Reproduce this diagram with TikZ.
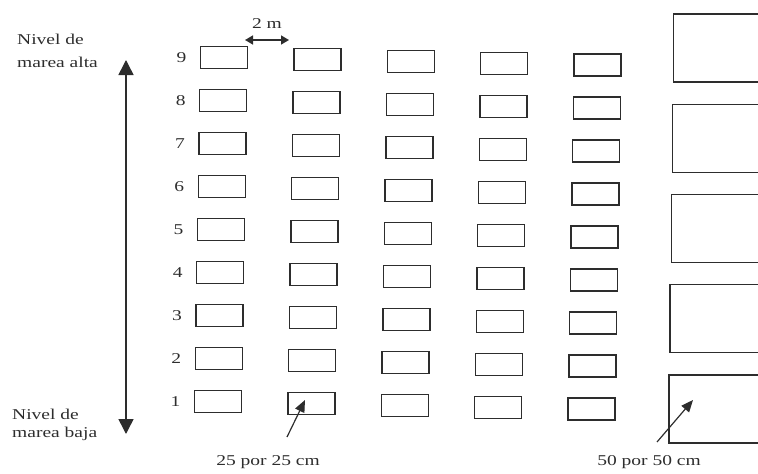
\documentclass[tikz,border=0pt]{standalone}
\usepackage{fontspec}
\setmainfont{Liberation Serif}
\usepackage{graphicx}
\usetikzlibrary{arrows.meta, positioning, calc}
\definecolor{inkcol}{RGB}{45,45,45}
\newcommand{\wide}[1]{\scalebox{1.3}[1]{#1}}

\begin{document}
\begin{tikzpicture}[
  x=1pt, y=-1pt,
  font=\fontsize{15}{23}\selectfont,
  every node/.style={text=inkcol},
  plot/.style={draw=inkcol, line width=1.4pt, minimum width=47pt,
               minimum height=22pt, inner sep=0pt},
  bigplot/.style={draw=inkcol, line width=1.3pt, minimum width=100pt,
                  minimum height=68pt, inner sep=0pt},
  lbl/.style={inner sep=0pt, align=left},
  tide/.style={{Triangle[length=15pt, width=15pt]}-{Triangle[length=15pt, width=15pt]},
               line width=1.5pt, draw=inkcol},
  span/.style={{Triangle[length=8pt, width=9pt]}-{Triangle[length=8pt, width=9pt]},
               line width=1.6pt, draw=inkcol},
  ptr/.style={-{Triangle[length=12pt, width=10pt]}, line width=1.2pt, draw=inkcol}
]
  \useasboundingbox (0,0) rectangle (758,474);
  \clip (0,0) rectangle (758,474);

  % small plots, 5 columns x 9 levels
  \foreach \c in {1,...,5}
    \foreach \r in {1,...,9}
      \node[plot] (b-\c-\r) at ({224+93.4*(\c-1)-0.75*(9-\r)}, {57.5+43*(9-\r)+1.9*(\c-1)}) {};

  % level numbers
  \foreach \r in {1,...,9}
    \node[left=10pt of b-1-\r] (n-\r) {\wide{\r}};

  % large plots
  \foreach \k in {1,...,5}
    \node[bigplot, anchor=west] (big-\k) at ({673-1.2*(\k-1)}, {48+90.25*(\k-1)}) {};

  % tide gradient
  \node[lbl, anchor=north west] (hightide) at (17,34)
    {\wide{Nivel de}\\\wide{marea alta}};
  \node[lbl, anchor=north west, font=\fontsize{15}{18}\selectfont] (lowtide) at (12,409)
    {\wide{Nivel de}\\\wide{marea baja}};
  \coordinate (hi) at (126,60);
  \coordinate (lo) at (126,434);
  \draw[tide] (hi) -- (lo);

  % spacing
  \coordinate (gapL) at (245,40);
  \coordinate (gapR) at (289,40);
  \draw[span] (gapL) -- node[above=7pt] (twom) {\wide{2 m}} (gapR);

  % plot sizes
  \node[lbl] (s25) at (268,462) {\wide{25 por 25 cm}};
  \node[lbl] (s50) at (649,462) {\wide{50 por 50 cm}};
  \coordinate (p25) at (287,437);
  \coordinate (q25) at (305,400);
  \coordinate (p50) at (657,442);
  \coordinate (q50) at (693,400);
  \draw[ptr] (p25) -- (q25);
  \draw[ptr] (p50) -- (q50);
\end{tikzpicture}
\end{document}
